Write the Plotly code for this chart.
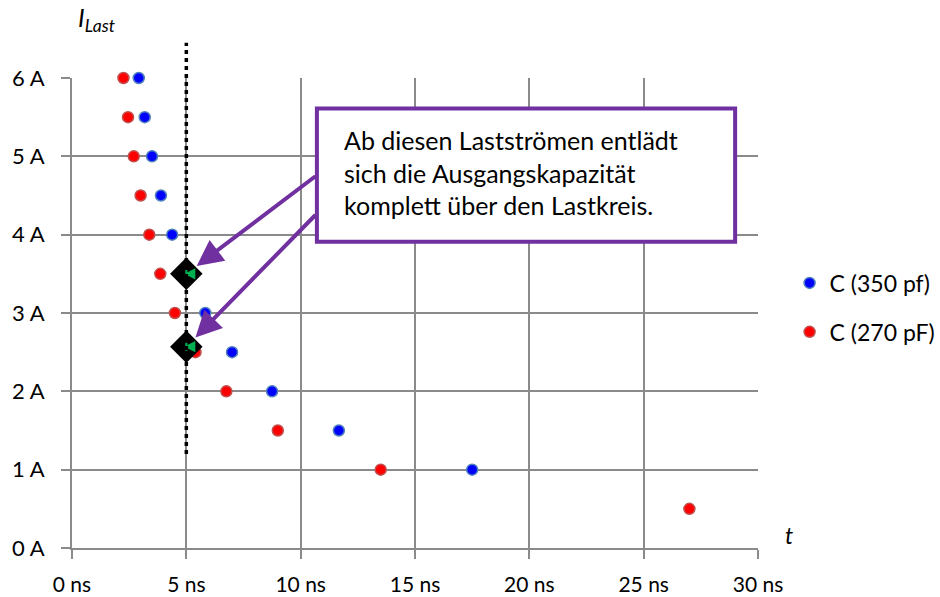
import plotly.graph_objects as go

# Data
t_350 = [2.92, 3.18, 3.5, 3.89, 4.38, 5.0, 5.83, 7.0, 8.75, 11.67, 17.5]
I_350 = [6, 5.5, 5, 4.5, 4, 3.5, 3, 2.5, 2, 1.5, 1]
t_270 = [2.25, 2.45, 2.7, 3.0, 3.38, 3.86, 4.5, 5.4, 6.75, 9.0, 13.5, 27.0]
I_270 = [6, 5.5, 5, 4.5, 4, 3.5, 3, 2.5, 2, 1.5, 1, 0.5]
mark_t = [5, 5]
mark_I = [3.5, 2.57]
x_ticks = [0, 5, 10, 15, 20, 25, 30]
x_labels = ["0 ns", "5 ns", "10 ns", "15 ns", "20 ns", "25 ns", "30 ns"]
y_ticks = [0, 1, 2, 3, 4, 5, 6]
y_labels = ["0 A", "1 A", "2 A", "3 A", "4 A", "5 A", "6 A"]
vline_t = 5
vline_from = 1.2
note = "Ab diesen Lastströmen entlädt<br>sich die Ausgangskapazität<br>komplett über den Lastkreis."

FONT = "Lato"
PURPLE = "#7030A0"
GRID = "#8a8a8a"

fig = go.Figure()
fig.add_trace(go.Scatter(
    x=t_350, y=I_350, mode="markers", name="C (350 pf)", legendgroup="a",
    marker=dict(symbol="circle", size=11, color="#0000FF", line=dict(color="#4f81bd", width=1.5)),
    cliponaxis=False))
fig.add_trace(go.Scatter(
    x=t_270, y=I_270, mode="markers", name="C (270 pF)", legendgroup="b",
    marker=dict(symbol="circle", size=11, color="#FF0000", line=dict(color="#c0504d", width=1.5)),
    cliponaxis=False))
fig.add_trace(go.Scatter(
    x=mark_t, y=mark_I, mode="markers", showlegend=False,
    marker=dict(symbol="diamond", size=25, color="black", line=dict(width=0)),
    cliponaxis=False))
fig.add_trace(go.Scatter(
    x=mark_t, y=mark_I, mode="markers", showlegend=False,
    marker=dict(symbol="arrow-bar-left", size=8, color="#00B050", line=dict(color="#00B050", width=2)),
    cliponaxis=False))

# dotted vertical line at 5 ns (extends above the plot area)
fig.add_shape(type="line", xref="x", yref="y domain", x0=vline_t, x1=vline_t,
              y0=vline_from / 6, y1=1.075,
              line=dict(color="black", width=3.5, dash="4px,4px"), layer="above")

# text box
fig.add_shape(type="rect", xref="x", yref="y", x0=10.71, x1=29.0, y0=3.91, y1=5.61,
              fillcolor="white", line=dict(color=PURPLE, width=4), layer="above")
fig.add_annotation(x=11.81, y=4.79, xref="x", yref="y", text=note, showarrow=False,
                   xanchor="left", yanchor="middle", align="left",
                   font=dict(family=FONT, size=25, color="black"))

# arrows
fig.add_annotation(x=mark_t[0], y=mark_I[0], ax=10.71, ay=4.76, axref="x", ayref="y",
                   xref="x", yref="y", text="", showarrow=True, arrowhead=2, arrowsize=1.3,
                   arrowwidth=4, arrowcolor=PURPLE, standoff=13)
fig.add_annotation(x=mark_t[1], y=mark_I[1], ax=10.71, ay=4.27, axref="x", ayref="y",
                   xref="x", yref="y", text="", showarrow=True, arrowhead=2, arrowsize=1.3,
                   arrowwidth=4, arrowcolor=PURPLE, standoff=13)

# axis titles
fig.add_annotation(xref="paper", yref="paper", x=0.006, y=1.125, xanchor="left", yanchor="middle",
                   text="<i>I<sub>Last</sub></i>", showarrow=False,
                   font=dict(family=FONT, size=25, color="black"))
fig.add_annotation(xref="paper", yref="paper", x=1.045, y=0.028, xanchor="center", yanchor="middle",
                   text="<i>t</i>", showarrow=False,
                   font=dict(family=FONT, size=23, color="black"))

fig.update_xaxes(range=[0, 30], tickvals=x_ticks, ticktext=x_labels, automargin=False,
                 showgrid=True, gridcolor=GRID, gridwidth=2,
                 showline=True, linecolor=GRID, linewidth=2, mirror=False,
                 ticks="outside", ticklen=9, tickwidth=2, tickcolor=GRID,
                 zeroline=False, ticklabelstandoff=8,
                 tickfont=dict(family=FONT, size=21, color="black"))
fig.update_yaxes(range=[0, 6], tickvals=y_ticks, ticktext=y_labels, automargin=False,
                 showgrid=True, gridcolor=GRID, gridwidth=2,
                 showline=True, linecolor=GRID, linewidth=2,
                 ticks="outside", ticklen=9, tickwidth=2, tickcolor=GRID,
                 zeroline=False, ticklabelstandoff=12,
                 tickfont=dict(family=FONT, size=22, color="black"))

fig.update_layout(
    width=940, height=597,
    margin=dict(l=72, r=182, t=78, b=49, autoexpand=False),
    plot_bgcolor="white", paper_bgcolor="white",
    showlegend=True,
    legend=dict(xref="container", yref="container", x=0.840, y=0.485,
                xanchor="left", yanchor="middle",
                font=dict(family=FONT, size=23, color="black"),
                tracegroupgap=16, traceorder="grouped",
                bgcolor="rgba(0,0,0,0)"),
    font=dict(family=FONT),
)

fig.write_html("out.html", config={"displayModeBar": False},
               post_script="document.body.style.margin='0';")
